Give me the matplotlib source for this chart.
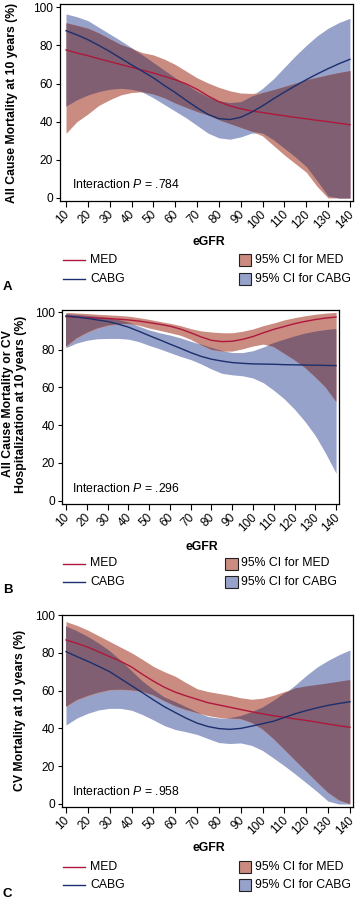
import matplotlib
matplotlib.use("Agg")
import matplotlib.pyplot as plt
import matplotlib.transforms as mtrans
import numpy as np
from matplotlib.lines import Line2D
from matplotlib.patches import Rectangle

plt.rcParams['font.family'] = ['Liberation Sans', 'DejaVu Sans']
plt.rcParams['mathtext.fontset'] = 'custom'
plt.rcParams['mathtext.rm'] = 'Liberation Sans'
plt.rcParams['mathtext.it'] = 'Liberation Sans:italic'

# eGFR grid (every 5 units) shared by all panels
egfr = np.arange(10, 141, 5)
xticks = list(range(10, 141, 10))
yticks = [0, 20, 40, 60, 80, 100]

# --- Panel A: all cause mortality ---
a_med = [77.6, 76.0, 74.6, 73.0, 71.5, 70.0, 68.5, 67.0, 65.5, 63.8, 62.0, 59.8, 57.0, 53.5,
         50.5, 48.3, 46.8, 45.6, 44.8, 43.9, 43.1, 42.2, 41.5, 40.7, 40.0, 39.2, 38.4]
a_med_lo = [33.9, 40.0, 44.0, 48.5, 51.5, 54.0, 55.3, 55.7, 54.5, 52.5, 49.8, 47.5, 45.3, 43.5,
            41.0, 39.0, 37.0, 35.0, 32.5, 27.5, 22.5, 18.0, 13.5, 6.0, 0.0, 0.0, 0.0]
a_med_hi = [91.9, 90.5, 89.0, 86.5, 83.5, 80.5, 78.5, 76.2, 75.0, 72.8, 70.0, 66.5, 63.0, 60.3,
            58.0, 56.2, 55.0, 54.8, 55.3, 56.8, 58.5, 60.2, 62.0, 63.3, 64.6, 65.8, 66.8]
a_cabg = [87.7, 85.5, 83.0, 80.0, 76.8, 73.3, 69.8, 66.4, 63.0, 59.0, 55.3, 51.2, 47.3, 43.8,
          41.6, 41.1, 42.3, 45.0, 48.3, 52.0, 55.5, 58.8, 62.0, 65.0, 67.8, 70.4, 72.7]
a_cabg_lo = [48.2, 51.5, 54.0, 55.8, 57.0, 57.5, 57.0, 55.5, 52.5, 49.0, 45.5, 42.0, 38.0, 34.0,
             31.5, 30.8, 32.0, 34.0, 34.0, 30.5, 26.0, 21.5, 16.5, 9.0, 1.0, 0.0, 0.0]
a_cabg_hi = [96.5, 95.0, 93.0, 89.5, 86.0, 82.5, 78.8, 75.0, 71.0, 67.0, 63.0, 59.5, 56.0, 53.0,
             51.0, 50.0, 50.5, 53.5, 57.5, 62.5, 68.5, 74.5, 80.0, 85.0, 89.0, 92.0, 94.2]

# --- Panel B: all cause mortality or CV hospitalization ---
b_med = [97.5, 97.3, 97.0, 96.8, 96.6, 96.2, 95.8, 95.2, 94.4, 93.5, 92.5, 91.0, 89.0, 86.8,
         85.0, 84.3, 84.5, 85.5, 87.0, 89.0, 90.8, 92.3, 93.8, 95.0, 96.0, 96.8, 97.3]
b_med_lo = [81.6, 86.0, 89.0, 91.3, 92.8, 93.6, 93.8, 93.0, 91.5, 90.3, 89.0, 87.7, 85.5, 82.5,
            80.0, 79.2, 79.3, 80.5, 82.0, 83.0, 81.5, 78.0, 74.5, 70.5, 65.5, 60.0, 52.5]
b_med_hi = [99.8, 99.5, 99.2, 98.8, 98.5, 98.2, 97.8, 97.0, 96.1, 95.0, 94.0, 92.8, 91.2, 90.0,
            89.4, 89.0, 89.0, 89.8, 91.0, 92.8, 94.2, 95.8, 97.0, 98.0, 98.8, 99.4, 99.8]
b_cabg = [98.0, 97.3, 96.7, 95.8, 95.0, 93.6, 92.0, 89.8, 87.5, 85.3, 83.0, 80.8, 78.5, 76.5,
          75.0, 74.0, 73.2, 72.8, 72.5, 72.4, 72.3, 72.1, 72.0, 71.9, 71.8, 71.7, 71.6]
b_cabg_lo = [81.1, 83.5, 85.0, 85.8, 86.0, 86.0, 85.6, 84.3, 82.3, 80.5, 78.5, 76.5, 74.8, 72.5,
             69.8, 67.5, 66.7, 66.2, 65.0, 62.5, 58.5, 54.0, 48.5, 42.0, 34.5, 25.0, 14.5]
b_cabg_hi = [98.8, 98.5, 98.0, 97.5, 96.8, 95.8, 94.5, 92.5, 90.5, 89.0, 87.8, 86.3, 84.5, 82.8,
             81.0, 79.5, 78.5, 78.5, 79.5, 81.5, 83.5, 85.3, 87.0, 88.5, 89.6, 90.4, 91.0]

# --- Panel C: CV mortality ---
c_med = [86.8, 85.0, 83.0, 80.5, 78.0, 75.5, 72.5, 68.6, 65.0, 61.8, 59.2, 57.2, 55.4, 53.6,
         52.4, 51.2, 50.0, 48.8, 47.7, 46.7, 45.9, 45.0, 44.2, 43.3, 42.3, 41.4, 40.6]
c_med_lo = [51.5, 55.0, 57.2, 59.0, 60.3, 60.5, 60.2, 59.4, 57.5, 54.5, 51.8, 49.8, 48.2, 46.8,
            45.8, 45.3, 45.0, 43.0, 39.5, 34.5, 28.8, 23.0, 17.3, 11.5, 6.0, 2.0, 0.0]
c_med_hi = [96.5, 94.5, 92.0, 89.0, 86.0, 83.0, 80.0, 76.5, 72.8, 70.0, 67.6, 64.2, 61.0, 59.5,
            58.5, 57.5, 56.2, 55.4, 56.0, 57.5, 59.5, 61.2, 62.2, 63.0, 63.8, 64.7, 65.6]
c_cabg = [80.6, 78.0, 75.5, 72.8, 70.0, 66.3, 62.6, 58.9, 55.1, 51.5, 48.4, 45.4, 42.8, 41.0,
          39.9, 39.5, 40.0, 41.2, 42.5, 43.8, 45.8, 47.8, 49.4, 50.9, 52.2, 53.2, 54.1]
c_cabg_lo = [41.8, 45.5, 48.0, 49.8, 50.6, 50.6, 49.6, 47.3, 44.5, 41.5, 39.4, 38.2, 36.8, 34.6,
             32.5, 32.0, 32.3, 31.0, 28.3, 24.3, 20.2, 15.8, 11.2, 6.5, 1.5, 0.0, 0.0]
c_cabg_hi = [94.0, 91.5, 88.5, 85.0, 81.0, 76.0, 70.5, 65.0, 60.5, 56.5, 54.0, 51.3, 48.6, 46.3,
             45.5, 45.5, 46.5, 48.5, 51.0, 54.5, 58.5, 63.0, 68.0, 72.5, 76.0, 79.0, 81.5]

RED_LINE = '#B0173C'
BLUE_LINE = '#1B2F6E'
RED_BAND = '#CA8B80'
BLUE_BAND = '#97A2CA'
OVERLAP = '#7F5F71'

W, H = 355, 900
FS = 8.8
TICK_FS = 8.6


def fx(px):
    return px / W


def fy(py):
    return 1 - py / H


def draw_panel(box, xlim, ylim, med, med_lo, med_hi, cabg, cabg_lo, cabg_hi):
    left, top, right, bottom = box
    ax = fig.add_axes([fx(left), fy(bottom), (right - left) / W, (bottom - top) / H])
    med_lo, med_hi = np.array(med_lo), np.array(med_hi)
    cabg_lo, cabg_hi = np.array(cabg_lo), np.array(cabg_hi)
    ax.fill_between(egfr, cabg_lo, cabg_hi, color=BLUE_BAND, lw=0)
    ax.fill_between(egfr, med_lo, med_hi, color=RED_BAND, lw=0)
    # overlap of both intervals gets its own darker colour
    lo = np.maximum(med_lo, cabg_lo)
    hi = np.minimum(med_hi, cabg_hi)
    ax.fill_between(egfr, lo, hi, where=hi > lo, interpolate=True, color=OVERLAP, lw=0)
    ax.plot(egfr, med, color=RED_LINE, lw=1.0)
    ax.plot(egfr, cabg, color=BLUE_LINE, lw=1.0)
    ax.set_xlim(*xlim)
    ax.set_ylim(*ylim)
    ax.set_xticks(xticks)
    ax.set_yticks(yticks)
    ax.set_xticklabels([str(t) for t in xticks], rotation=45, ha='right',
                       rotation_mode='anchor', fontsize=TICK_FS)
    ax.set_yticklabels([str(t) for t in yticks], fontsize=TICK_FS)
    ax.tick_params(direction='out', length=3, width=0.8, pad=2, color='black')
    ax.tick_params(axis='x', length=4, pad=1.5)
    # nudge rotated labels a little to the left so the last one stays inside
    shift = mtrans.ScaledTranslation(-2.5 / 100, 0, fig.dpi_scale_trans)
    for lab in ax.get_xticklabels():
        lab.set_transform(lab.get_transform() + shift)
    for s in ax.spines.values():
        s.set_linewidth(0.9)
        s.set_color('black')
    return ax


fig = plt.figure(figsize=(W / 100, H / 100), dpi=100)

draw_panel((60, 4, 353, 201), (7.25, 141.4), (-1.6, 101.7),
           a_med, a_med_lo, a_med_hi, a_cabg, a_cabg_lo, a_cabg_hi)
draw_panel((62, 310, 339, 504), (8.07, 141.4), (-1.75, 101.06),
           b_med, b_med_lo, b_med_hi, b_cabg, b_cabg_lo, b_cabg_hi)
draw_panel((62, 614.7, 353, 806.7), (8.17, 141.4), (-1.43, 100.16),
           c_med, c_med_lo, c_med_hi, c_cabg, c_cabg_lo, c_cabg_hi)

# y labels
fig.text(fx(12.5), fy(103), 'All Cause Mortality at 10 years (%)', rotation=90,
         ha='center', va='center', fontsize=FS, fontweight='bold')
fig.text(fx(14.5), fy(404), 'All Cause Mortality or CV\nHospitalization at 10 years (%)',
         rotation=90, ha='center', va='center', fontsize=FS, fontweight='bold',
         linespacing=1.1)
fig.text(fx(20.5), fy(710), 'CV Mortality at 10 years (%)', rotation=90,
         ha='center', va='center', fontsize=FS, fontweight='bold')

# x labels
for xc, yc in [(209, 242), (201.5, 546.5), (209, 848)]:
    fig.text(fx(xc), fy(yc), 'eGFR', ha='center', va='center', fontsize=FS, fontweight='bold')

# interaction p values
for yc, p in [(184.3, '.784'), (488.3, '.296'), (791.7, '.958')]:
    fig.text(fx(72.5), fy(yc), r'Interaction $P$ = ' + p, ha='left', va='center', fontsize=FS)

# legends
legend_rows = [(260, 279, 239), (563.5, 582, 225), (866.5, 885, 239)]
for y1, y2, px in legend_rows:
    fig.add_artist(Line2D([fx(63), fx(85)], [fy(y1), fy(y1)], color=RED_LINE, lw=1.0))
    fig.add_artist(Line2D([fx(63), fx(85)], [fy(y2), fy(y2)], color=BLUE_LINE, lw=1.0))
    fig.text(fx(90), fy(y1), 'MED', ha='left', va='center', fontsize=FS)
    fig.text(fx(90), fy(y2), 'CABG', ha='left', va='center', fontsize=FS)
    for yy, col, lab in [(y1, RED_BAND, '95% CI for MED'), (y2, BLUE_BAND, '95% CI for CABG')]:
        fig.add_artist(Rectangle((fx(px), fy(yy + 6)), 12.5 / W, 12 / H, facecolor=col,
                                 edgecolor='#222222', lw=0.8, transform=fig.transFigure))
        fig.text(fx(px + 16), fy(yy), lab, ha='left', va='center', fontsize=FS)

# panel letters
for lab, yc in [('A', 287), ('B', 590), ('C', 894)]:
    fig.text(fx(3), fy(yc), lab, ha='left', va='center', fontsize=9.5, fontweight='bold')

fig.savefig('out.png', dpi=100)
